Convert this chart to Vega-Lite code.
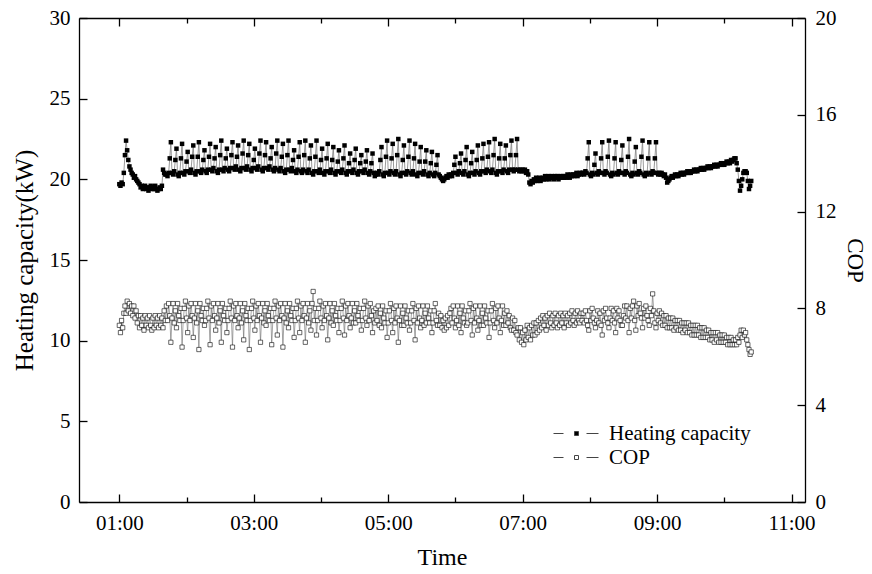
{
"$schema":"https://vega.github.io/schema/vega-lite/v6.json",
"width":726,"height":484,
"autosize":{"type":"none"},
"padding":{"left":79,"top":18,"right":67,"bottom":72},
"config":{"font":"Liberation Serif","view":{"stroke":null},
"axis":{"domainColor":"black","domainWidth":1.3,"tickColor":"black","tickWidth":1.3,"labelColor":"black","titleColor":"black","labelFont":"Liberation Serif","titleFont":"Liberation Serif","labelFontSize":21,"titleFontSize":24,"titleFontWeight":"normal","grid":false}},
"data":{"format":{"parse":{"t":"date:'%H:%M'"}},"values":[
{"t":"1:00","h":19.7,"c":7.3},{"t":"1:01","h":19.6,"c":7.0},{"t":"1:02","h":19.8,"c":7.5},{"t":"1:03","h":19.7,"c":7.2},{"t":"1:04","h":20.4,"c":7.8},{"t":"1:05","h":21.5,"c":8.1},{"t":"1:06","h":22.4,"c":7.8},{"t":"1:07","h":21.8,"c":8.3},{"t":"1:08","h":21.2,"c":7.9},{"t":"1:09","h":20.8,"c":8.2},
{"t":"1:10","h":20.6,"c":7.8},{"t":"1:11","h":20.4,"c":8.1},{"t":"1:12","h":20.3,"c":7.7},{"t":"1:13","h":20.1,"c":8.1},{"t":"1:14","h":20.2,"c":7.6},{"t":"1:15","h":20.0,"c":7.9},{"t":"1:16","h":19.9,"c":7.4},{"t":"1:17","h":19.8,"c":7.7},{"t":"1:18","h":19.7,"c":7.2},{"t":"1:19","h":19.5,"c":7.7},
{"t":"1:20","h":19.6,"c":7.3},{"t":"1:21","h":19.4,"c":7.6},{"t":"1:22","h":19.5,"c":7.1},{"t":"1:23","h":19.6,"c":7.7},{"t":"1:24","h":19.4,"c":7.3},{"t":"1:25","h":19.5,"c":7.6},{"t":"1:26","h":19.3,"c":7.2},{"t":"1:27","h":19.5,"c":7.7},{"t":"1:28","h":19.6,"c":7.3},{"t":"1:29","h":19.4,"c":7.1},
{"t":"1:30","h":19.5,"c":7.6},{"t":"1:31","h":19.4,"c":7.2},{"t":"1:32","h":19.6,"c":7.7},{"t":"1:33","h":19.4,"c":7.3},{"t":"1:34","h":19.3,"c":7.6},{"t":"1:35","h":19.4,"c":7.2},{"t":"1:36","h":19.5,"c":7.7},{"t":"1:37","h":19.4,"c":7.3},{"t":"1:38","h":19.6,"c":7.6},{"t":"1:39","h":20.6,"c":7.2},
{"t":"1:40","h":20.4,"c":7.9},{"t":"1:41","h":20.3,"c":7.5},
{"t":"1:42","h":20.3,"c":8.1},{"t":"1:43","h":20.2,"c":7.5},{"t":"1:44","h":20.4,"c":8.2},{"t":"1:45","h":21.3,"c":7.7},{"t":"1:46","h":22.3,"c":6.6},
{"t":"1:47","h":20.4,"c":7.6},{"t":"1:48","h":20.3,"c":8.2},{"t":"1:49","h":20.5,"c":7.4},{"t":"1:50","h":21.2,"c":7.9},{"t":"1:51","h":21.9,"c":7.2},
{"t":"1:52","h":20.3,"c":8.2},{"t":"1:53","h":20.2,"c":7.7},{"t":"1:54","h":20.4,"c":7.5},{"t":"1:55","h":21.3,"c":8.0},{"t":"1:56","h":22.2,"c":6.4},
{"t":"1:57","h":20.4,"c":7.5},{"t":"1:58","h":20.3,"c":8.0},{"t":"1:59","h":20.5,"c":8.3},{"t":"2:00","h":21.1,"c":7.6},{"t":"2:01","h":21.7,"c":7.0},
{"t":"2:02","h":20.5,"c":8.1},{"t":"2:03","h":20.4,"c":7.5},{"t":"2:04","h":20.6,"c":8.2},{"t":"2:05","h":21.4,"c":7.7},{"t":"2:06","h":22.1,"c":6.8},
{"t":"2:07","h":20.4,"c":7.6},{"t":"2:08","h":20.3,"c":8.2},{"t":"2:09","h":20.5,"c":7.4},{"t":"2:10","h":21.4,"c":7.9},{"t":"2:11","h":22.3,"c":6.3},
{"t":"2:12","h":20.5,"c":8.2},{"t":"2:13","h":20.4,"c":7.7},{"t":"2:14","h":20.6,"c":7.5},{"t":"2:15","h":21.2,"c":8.0},{"t":"2:16","h":21.8,"c":7.3},
{"t":"2:17","h":20.5,"c":7.5},{"t":"2:18","h":20.4,"c":8.0},{"t":"2:19","h":20.6,"c":8.3},{"t":"2:20","h":21.4,"c":7.6},{"t":"2:21","h":22.2,"c":6.5},
{"t":"2:22","h":20.6,"c":8.1},{"t":"2:23","h":20.5,"c":7.5},{"t":"2:24","h":20.7,"c":8.2},{"t":"2:25","h":21.3,"c":7.7},{"t":"2:26","h":22.0,"c":7.1},
{"t":"2:27","h":20.5,"c":7.6},{"t":"2:28","h":20.4,"c":8.2},{"t":"2:29","h":20.6,"c":7.4},{"t":"2:30","h":21.5,"c":7.9},{"t":"2:31","h":22.4,"c":6.6},
{"t":"2:32","h":20.6,"c":8.2},{"t":"2:33","h":20.5,"c":7.7},{"t":"2:34","h":20.7,"c":7.5},{"t":"2:35","h":21.3,"c":8.0},{"t":"2:36","h":21.9,"c":7.0},
{"t":"2:37","h":20.6,"c":7.5},{"t":"2:38","h":20.5,"c":8.0},{"t":"2:39","h":20.7,"c":8.3},{"t":"2:40","h":21.5,"c":7.6},{"t":"2:41","h":22.3,"c":6.4},
{"t":"2:42","h":20.7,"c":8.1},{"t":"2:43","h":20.6,"c":7.5},{"t":"2:44","h":20.8,"c":8.2},{"t":"2:45","h":21.4,"c":7.7},{"t":"2:46","h":22.1,"c":7.2},
{"t":"2:47","h":20.6,"c":7.6},{"t":"2:48","h":20.5,"c":8.2},{"t":"2:49","h":20.7,"c":7.4},{"t":"2:50","h":21.6,"c":7.9},{"t":"2:51","h":22.4,"c":6.7},
{"t":"2:52","h":20.7,"c":8.2},{"t":"2:53","h":20.6,"c":7.7},{"t":"2:54","h":20.8,"c":7.5},{"t":"2:55","h":21.5,"c":8.0},{"t":"2:56","h":22.2,"c":6.3},
{"t":"2:57","h":20.6,"c":7.5},{"t":"2:58","h":20.5,"c":8.0},{"t":"2:59","h":20.7,"c":8.3},{"t":"3:00","h":21.2,"c":7.6},{"t":"3:01","h":21.9,"c":7.1},
{"t":"3:02","h":20.7,"c":8.1},{"t":"3:03","h":20.6,"c":7.5},{"t":"3:04","h":20.8,"c":8.2},{"t":"3:05","h":21.6,"c":7.7},{"t":"3:06","h":22.4,"c":6.6},
{"t":"3:07","h":20.6,"c":7.6},{"t":"3:08","h":20.5,"c":8.2},{"t":"3:09","h":20.7,"c":7.4},{"t":"3:10","h":21.5,"c":7.9},{"t":"3:11","h":22.3,"c":7.3},
{"t":"3:12","h":20.7,"c":8.2},{"t":"3:13","h":20.6,"c":7.7},{"t":"3:14","h":20.8,"c":7.5},{"t":"3:15","h":21.3,"c":8.0},{"t":"3:16","h":22.0,"c":6.5},
{"t":"3:17","h":20.6,"c":7.5},{"t":"3:18","h":20.5,"c":8.0},{"t":"3:19","h":20.7,"c":8.3},{"t":"3:20","h":21.6,"c":7.6},{"t":"3:21","h":22.4,"c":6.9},
{"t":"3:22","h":20.6,"c":8.1},{"t":"3:23","h":20.5,"c":7.5},{"t":"3:24","h":20.7,"c":8.2},{"t":"3:25","h":21.4,"c":7.7},{"t":"3:26","h":22.2,"c":6.4},
{"t":"3:27","h":20.5,"c":7.6},{"t":"3:28","h":20.4,"c":8.2},{"t":"3:29","h":20.6,"c":7.4},{"t":"3:30","h":21.5,"c":7.9},{"t":"3:31","h":22.4,"c":7.2},
{"t":"3:32","h":20.6,"c":8.2},{"t":"3:33","h":20.5,"c":7.7},{"t":"3:34","h":20.7,"c":7.5},{"t":"3:35","h":21.2,"c":8.0},{"t":"3:36","h":21.8,"c":6.8},
{"t":"3:37","h":20.5,"c":7.5},{"t":"3:38","h":20.4,"c":8.0},{"t":"3:39","h":20.6,"c":8.3},{"t":"3:40","h":21.4,"c":7.6},{"t":"3:41","h":22.3,"c":7.0},
{"t":"3:42","h":20.5,"c":8.1},{"t":"3:43","h":20.4,"c":7.5},{"t":"3:44","h":20.6,"c":8.2},{"t":"3:45","h":21.5,"c":7.7},{"t":"3:46","h":22.4,"c":6.6},
{"t":"3:47","h":20.5,"c":7.6},{"t":"3:48","h":20.4,"c":8.2},{"t":"3:49","h":20.6,"c":7.4},{"t":"3:50","h":21.3,"c":7.9},{"t":"3:51","h":22.1,"c":7.1},
{"t":"3:52","h":20.4,"c":8.2},{"t":"3:53","h":20.3,"c":8.7},{"t":"3:54","h":20.5,"c":7.5},{"t":"3:55","h":21.4,"c":8.0},{"t":"3:56","h":22.4,"c":6.9},
{"t":"3:57","h":20.5,"c":7.5},{"t":"3:58","h":20.4,"c":8.0},{"t":"3:59","h":20.6,"c":8.3},{"t":"4:00","h":21.2,"c":7.6},{"t":"4:01","h":21.9,"c":7.2},
{"t":"4:02","h":20.4,"c":8.1},{"t":"4:03","h":20.3,"c":7.5},{"t":"4:04","h":20.5,"c":8.2},{"t":"4:05","h":21.3,"c":7.7},{"t":"4:06","h":22.2,"c":6.7},
{"t":"4:07","h":20.5,"c":7.6},{"t":"4:08","h":20.4,"c":8.2},{"t":"4:09","h":20.6,"c":7.4},{"t":"4:10","h":21.2,"c":7.9},{"t":"4:11","h":22.0,"c":7.3},
{"t":"4:12","h":20.4,"c":8.2},{"t":"4:13","h":20.3,"c":7.7},{"t":"4:14","h":20.5,"c":7.5},{"t":"4:15","h":21.1,"c":8.0},{"t":"4:16","h":21.8,"c":7.0},
{"t":"4:17","h":20.5,"c":7.5},{"t":"4:18","h":20.4,"c":8.0},{"t":"4:19","h":20.6,"c":8.3},{"t":"4:20","h":21.3,"c":7.6},{"t":"4:21","h":22.1,"c":6.9},
{"t":"4:22","h":20.4,"c":8.1},{"t":"4:23","h":20.3,"c":7.5},{"t":"4:24","h":20.5,"c":8.2},{"t":"4:25","h":21.0,"c":7.7},{"t":"4:26","h":21.6,"c":7.2},
{"t":"4:27","h":20.5,"c":7.6},{"t":"4:28","h":20.4,"c":8.2},{"t":"4:29","h":20.6,"c":7.4},{"t":"4:30","h":21.2,"c":7.9},{"t":"4:31","h":21.9,"c":7.4},
{"t":"4:32","h":20.4,"c":8.2},{"t":"4:33","h":20.3,"c":7.7},{"t":"4:34","h":20.5,"c":7.5},{"t":"4:35","h":21.0,"c":8.0},{"t":"4:36","h":21.5,"c":7.1},
{"t":"4:37","h":20.5,"c":7.5},{"t":"4:38","h":20.4,"c":8.0},{"t":"4:39","h":20.6,"c":8.3},{"t":"4:40","h":21.1,"c":7.6},{"t":"4:41","h":21.8,"c":7.3},
{"t":"4:42","h":20.4,"c":8.1},{"t":"4:43","h":20.3,"c":7.5},{"t":"4:44","h":20.5,"c":8.2},{"t":"4:45","h":21.0,"c":7.7},{"t":"4:46","h":21.6,"c":7.0},
{"t":"4:47","h":20.4,"c":7.9},{"t":"4:48","h":20.2,"c":7.4},{"t":"4:49","h":20.3,"c":8.0},
{"t":"4:50","h":20.4,"c":7.5},{"t":"4:51","h":20.3,"c":8.1},{"t":"4:52","h":20.5,"c":7.3},{"t":"4:53","h":21.2,"c":7.8},{"t":"4:54","h":22.0,"c":7.2},
{"t":"4:55","h":20.3,"c":8.1},{"t":"4:56","h":20.2,"c":7.6},{"t":"4:57","h":20.4,"c":7.4},{"t":"4:58","h":21.4,"c":7.9},{"t":"4:59","h":22.4,"c":6.8},
{"t":"5:00","h":20.4,"c":7.4},{"t":"5:01","h":20.3,"c":7.9},{"t":"5:02","h":20.5,"c":8.2},{"t":"5:03","h":21.3,"c":7.5},{"t":"5:04","h":22.2,"c":7.0},
{"t":"5:05","h":20.4,"c":8.0},{"t":"5:06","h":20.3,"c":7.4},{"t":"5:07","h":20.5,"c":8.1},{"t":"5:08","h":21.5,"c":7.6},{"t":"5:09","h":22.5,"c":6.6},
{"t":"5:10","h":20.3,"c":7.5},{"t":"5:11","h":20.2,"c":8.1},{"t":"5:12","h":20.4,"c":7.3},{"t":"5:13","h":21.2,"c":7.8},{"t":"5:14","h":22.1,"c":7.3},
{"t":"5:15","h":20.4,"c":8.1},{"t":"5:16","h":20.3,"c":7.6},{"t":"5:17","h":20.5,"c":7.4},{"t":"5:18","h":21.4,"c":7.9},{"t":"5:19","h":22.4,"c":7.1},
{"t":"5:20","h":20.4,"c":7.4},{"t":"5:21","h":20.3,"c":7.9},{"t":"5:22","h":20.5,"c":8.2},{"t":"5:23","h":21.3,"c":7.5},{"t":"5:24","h":22.2,"c":6.7},
{"t":"5:25","h":20.3,"c":8.0},{"t":"5:26","h":20.2,"c":7.4},{"t":"5:27","h":20.4,"c":8.1},{"t":"5:28","h":21.1,"c":7.6},{"t":"5:29","h":22.0,"c":7.2},
{"t":"5:30","h":20.4,"c":7.5},{"t":"5:31","h":20.3,"c":8.1},{"t":"5:32","h":20.5,"c":7.3},{"t":"5:33","h":21.1,"c":7.8},{"t":"5:34","h":21.8,"c":7.4},
{"t":"5:35","h":20.3,"c":8.1},{"t":"5:36","h":20.2,"c":7.6},{"t":"5:37","h":20.4,"c":7.4},{"t":"5:38","h":21.0,"c":7.9},{"t":"5:39","h":21.7,"c":7.0},
{"t":"5:40","h":20.3,"c":7.4},{"t":"5:41","h":20.2,"c":7.9},{"t":"5:42","h":20.4,"c":8.2},{"t":"5:43","h":20.9,"c":7.5},{"t":"5:44","h":21.5,"c":7.3},
{"t":"5:45","h":20.3,"c":7.8},{"t":"5:46","h":20.2,"c":7.3},{"t":"5:47","h":20.1,"c":7.7},{"t":"5:48","h":20.0,"c":7.2},{"t":"5:49","h":19.9,"c":7.5},{"t":"5:50","h":20.0,"c":7.1},{"t":"5:51","h":20.1,"c":7.6},{"t":"5:52","h":20.2,"c":7.2},{"t":"5:53","h":20.1,"c":7.7},{"t":"5:54","h":20.3,"c":7.3},{"t":"5:55","h":20.2,"c":7.8},
{"t":"5:56","h":20.3,"c":8.0},{"t":"5:57","h":20.2,"c":7.4},{"t":"5:58","h":20.4,"c":8.1},{"t":"5:59","h":20.9,"c":7.6},{"t":"6:00","h":21.4,"c":7.2},
{"t":"6:01","h":20.4,"c":7.5},{"t":"6:02","h":20.3,"c":8.1},{"t":"6:03","h":20.5,"c":7.3},{"t":"6:04","h":21.0,"c":7.8},{"t":"6:05","h":21.6,"c":7.0},
{"t":"6:06","h":20.4,"c":8.1},{"t":"6:07","h":20.3,"c":7.6},{"t":"6:08","h":20.5,"c":7.4},{"t":"6:09","h":21.2,"c":7.9},{"t":"6:10","h":22.0,"c":7.3},
{"t":"6:11","h":20.3,"c":7.4},{"t":"6:12","h":20.2,"c":7.9},{"t":"6:13","h":20.4,"c":8.2},{"t":"6:14","h":21.0,"c":7.5},{"t":"6:15","h":21.7,"c":6.9},
{"t":"6:16","h":20.4,"c":8.0},{"t":"6:17","h":20.3,"c":7.4},{"t":"6:18","h":20.5,"c":8.1},{"t":"6:19","h":21.2,"c":7.6},{"t":"6:20","h":22.1,"c":7.1},
{"t":"6:21","h":20.4,"c":7.5},{"t":"6:22","h":20.3,"c":8.1},{"t":"6:23","h":20.5,"c":7.3},{"t":"6:24","h":21.3,"c":7.8},{"t":"6:25","h":22.2,"c":7.3},
{"t":"6:26","h":20.5,"c":8.1},{"t":"6:27","h":20.4,"c":7.6},{"t":"6:28","h":20.6,"c":7.4},{"t":"6:29","h":21.4,"c":7.9},{"t":"6:30","h":22.3,"c":6.8},
{"t":"6:31","h":20.5,"c":7.4},{"t":"6:32","h":20.4,"c":7.9},{"t":"6:33","h":20.6,"c":8.2},{"t":"6:34","h":21.5,"c":7.5},{"t":"6:35","h":22.5,"c":7.2},
{"t":"6:36","h":20.4,"c":8.0},{"t":"6:37","h":20.3,"c":7.4},{"t":"6:38","h":20.5,"c":8.1},{"t":"6:39","h":21.3,"c":7.6},{"t":"6:40","h":22.2,"c":7.0},
{"t":"6:41","h":20.5,"c":7.5},{"t":"6:42","h":20.4,"c":8.1},{"t":"6:43","h":20.6,"c":7.3},{"t":"6:44","h":21.3,"c":7.8},{"t":"6:45","h":22.1,"c":7.3},
{"t":"6:46","h":20.5,"c":7.9},{"t":"6:47","h":20.4,"c":7.4},{"t":"6:48","h":20.6,"c":7.7},{"t":"6:49","h":21.5,"c":7.2},{"t":"6:50","h":22.4,"c":7.1},
{"t":"6:51","h":20.6,"c":7.6},{"t":"6:52","h":20.5,"c":7.1},{"t":"6:53","h":20.6,"c":7.5},{"t":"6:54","h":21.5,"c":7.0},{"t":"6:55","h":22.5,"c":6.9},
{"t":"6:56","h":20.6,"c":7.2},{"t":"6:57","h":20.5,"c":6.7},{"t":"6:58","h":20.6,"c":7.2},{"t":"6:59","h":20.5,"c":6.6},{"t":"7:00","h":20.6,"c":7.0},{"t":"7:01","h":20.5,"c":6.5},{"t":"7:02","h":20.6,"c":7.1},{"t":"7:03","h":20.4,"c":6.7},{"t":"7:04","h":20.5,"c":7.3},{"t":"7:05","h":20.3,"c":6.8},
{"t":"7:06","h":19.8,"c":7.2},{"t":"7:07","h":19.7,"c":6.7},{"t":"7:08","h":19.9,"c":7.3},{"t":"7:09","h":19.8,"c":6.9},{"t":"7:10","h":20.0,"c":7.4},{"t":"7:11","h":19.9,"c":6.9},{"t":"7:12","h":20.1,"c":7.4},{"t":"7:13","h":19.9,"c":7.0},{"t":"7:14","h":20.0,"c":7.5},{"t":"7:15","h":20.1,"c":7.1},
{"t":"7:16","h":19.9,"c":7.6},{"t":"7:17","h":20.0,"c":7.2},{"t":"7:18","h":20.1,"c":7.7},{"t":"7:19","h":20.0,"c":7.3},{"t":"7:20","h":20.2,"c":7.6},{"t":"7:21","h":20.0,"c":7.1},{"t":"7:22","h":20.1,"c":7.7},{"t":"7:23","h":20.2,"c":7.3},{"t":"7:24","h":20.0,"c":7.8},{"t":"7:25","h":20.1,"c":7.4},
{"t":"7:26","h":20.2,"c":7.2},{"t":"7:27","h":20.1,"c":7.7},{"t":"7:28","h":20.0,"c":7.3},{"t":"7:29","h":20.2,"c":7.8},{"t":"7:30","h":20.1,"c":7.4},{"t":"7:31","h":20.2,"c":7.2},{"t":"7:32","h":20.0,"c":7.7},{"t":"7:33","h":20.1,"c":7.3},{"t":"7:34","h":20.2,"c":7.8},{"t":"7:35","h":20.1,"c":7.4},
{"t":"7:36","h":20.2,"c":7.7},{"t":"7:37","h":20.1,"c":7.2},{"t":"7:38","h":20.2,"c":7.8},{"t":"7:39","h":20.1,"c":7.4},{"t":"7:40","h":20.3,"c":7.7},{"t":"7:41","h":20.2,"c":7.3},{"t":"7:42","h":20.1,"c":7.8},{"t":"7:43","h":20.3,"c":7.4},{"t":"7:44","h":20.2,"c":7.9},{"t":"7:45","h":20.3,"c":7.5},
{"t":"7:46","h":20.2,"c":7.3},{"t":"7:47","h":20.3,"c":7.8},{"t":"7:48","h":20.4,"c":7.4},{"t":"7:49","h":20.2,"c":7.9},{"t":"7:50","h":20.3,"c":7.5},{"t":"7:51","h":20.4,"c":7.4},{"t":"7:52","h":20.3,"c":7.8},{"t":"7:53","h":20.4,"c":7.5},
{"t":"7:54","h":20.4,"c":7.8},{"t":"7:55","h":20.3,"c":7.4},{"t":"7:56","h":20.5,"c":7.9},{"t":"7:57","h":20.4,"c":7.5},{"t":"7:58","h":21.3,"c":7.3},{"t":"7:59","h":22.3,"c":7.1},
{"t":"8:00","h":20.3,"c":7.9},{"t":"8:01","h":20.2,"c":7.5},{"t":"8:02","h":20.4,"c":8.0},{"t":"8:03","h":20.3,"c":7.6},{"t":"8:04","h":20.9,"c":7.4},{"t":"8:05","h":21.6,"c":7.2},
{"t":"8:06","h":20.4,"c":7.5},{"t":"8:07","h":20.3,"c":7.9},{"t":"8:08","h":20.5,"c":7.4},{"t":"8:09","h":20.4,"c":7.8},{"t":"8:10","h":21.3,"c":7.3},{"t":"8:11","h":22.3,"c":6.9},
{"t":"8:12","h":20.4,"c":7.9},{"t":"8:13","h":20.3,"c":7.5},{"t":"8:14","h":20.5,"c":8.0},{"t":"8:15","h":20.4,"c":7.6},{"t":"8:16","h":21.4,"c":7.4},{"t":"8:17","h":22.4,"c":7.2},
{"t":"8:18","h":20.3,"c":7.6},{"t":"8:19","h":20.2,"c":8.0},{"t":"8:20","h":20.4,"c":7.5},{"t":"8:21","h":20.3,"c":7.9},{"t":"8:22","h":21.3,"c":7.4},{"t":"8:23","h":22.3,"c":7.0},
{"t":"8:24","h":20.4,"c":8.0},{"t":"8:25","h":20.3,"c":7.6},{"t":"8:26","h":20.5,"c":7.9},{"t":"8:27","h":20.4,"c":7.5},{"t":"8:28","h":21.2,"c":7.3},{"t":"8:29","h":22.1,"c":7.3},
{"t":"8:30","h":20.4,"c":7.7},{"t":"8:31","h":20.3,"c":8.1},{"t":"8:32","h":20.5,"c":7.6},{"t":"8:33","h":20.4,"c":8.1},{"t":"8:34","h":21.4,"c":7.5},{"t":"8:35","h":22.5,"c":7.0},
{"t":"8:36","h":20.3,"c":8.0},{"t":"8:37","h":20.2,"c":7.6},{"t":"8:38","h":20.4,"c":8.1},{"t":"8:39","h":20.3,"c":8.3},{"t":"8:40","h":21.1,"c":7.5},{"t":"8:41","h":22.0,"c":7.1},
{"t":"8:42","h":20.4,"c":8.1},{"t":"8:43","h":20.3,"c":7.7},{"t":"8:44","h":20.5,"c":8.2},{"t":"8:45","h":20.4,"c":7.8},{"t":"8:46","h":21.4,"c":7.6},{"t":"8:47","h":22.4,"c":7.2},
{"t":"8:48","h":20.3,"c":8.0},{"t":"8:49","h":20.2,"c":7.6},{"t":"8:50","h":20.4,"c":8.1},{"t":"8:51","h":20.3,"c":7.7},{"t":"8:52","h":21.3,"c":7.5},{"t":"8:53","h":22.3,"c":7.3},
{"t":"8:54","h":20.4,"c":8.0},{"t":"8:55","h":20.3,"c":7.7},{"t":"8:56","h":20.5,"c":8.6},{"t":"8:57","h":20.4,"c":7.9},{"t":"8:58","h":21.3,"c":7.4},{"t":"8:59","h":22.3,"c":7.2},
{"t":"9:00","h":20.4,"c":7.8},{"t":"9:01","h":20.3,"c":7.5},{"t":"9:02","h":20.4,"c":7.9},{"t":"9:03","h":20.3,"c":7.4},{"t":"9:04","h":20.4,"c":7.8},{"t":"9:05","h":20.3,"c":7.3},{"t":"9:06","h":20.2,"c":7.7},{"t":"9:07","h":20.3,"c":7.3},{"t":"9:08","h":20.1,"c":7.7},{"t":"9:09","h":19.8,"c":7.2},
{"t":"9:10","h":19.9,"c":7.6},{"t":"9:11","h":20.0,"c":7.2},{"t":"9:12","h":20.1,"c":7.6},{"t":"9:13","h":20.2,"c":7.2},{"t":"9:14","h":20.1,"c":7.6},{"t":"9:15","h":20.2,"c":7.1},{"t":"9:16","h":20.3,"c":7.5},{"t":"9:17","h":20.2,"c":7.2},{"t":"9:18","h":20.3,"c":7.5},{"t":"9:19","h":20.2,"c":7.1},
{"t":"9:20","h":20.3,"c":7.5},{"t":"9:21","h":20.4,"c":7.1},{"t":"9:22","h":20.3,"c":7.4},{"t":"9:23","h":20.4,"c":7.0},{"t":"9:24","h":20.3,"c":7.4},{"t":"9:25","h":20.4,"c":7.1},{"t":"9:26","h":20.4,"c":7.4},{"t":"9:27","h":20.5,"c":7.0},{"t":"9:28","h":20.4,"c":7.4},{"t":"9:29","h":20.5,"c":7.0},
{"t":"9:30","h":20.4,"c":7.3},{"t":"9:31","h":20.5,"c":6.9},{"t":"9:32","h":20.5,"c":7.3},{"t":"9:33","h":20.6,"c":6.9},{"t":"9:34","h":20.5,"c":7.3},{"t":"9:35","h":20.6,"c":6.9},{"t":"9:36","h":20.5,"c":7.3},{"t":"9:37","h":20.6,"c":6.9},{"t":"9:38","h":20.6,"c":7.2},{"t":"9:39","h":20.7,"c":6.8},
{"t":"9:40","h":20.6,"c":7.2},{"t":"9:41","h":20.7,"c":6.8},{"t":"9:42","h":20.6,"c":7.2},{"t":"9:43","h":20.7,"c":6.8},{"t":"9:44","h":20.7,"c":7.1},{"t":"9:45","h":20.8,"c":6.8},{"t":"9:46","h":20.7,"c":7.1},{"t":"9:47","h":20.8,"c":6.7},{"t":"9:48","h":20.7,"c":7.0},{"t":"9:49","h":20.8,"c":6.7},
{"t":"9:50","h":20.8,"c":7.0},{"t":"9:51","h":20.9,"c":6.6},{"t":"9:52","h":20.8,"c":7.0},{"t":"9:53","h":20.9,"c":6.7},{"t":"9:54","h":20.8,"c":7.0},{"t":"9:55","h":20.9,"c":6.6},{"t":"9:56","h":20.9,"c":6.9},{"t":"9:57","h":21.0,"c":6.6},{"t":"9:58","h":20.9,"c":6.9},{"t":"9:59","h":21.0,"c":6.6},
{"t":"10:00","h":20.9,"c":6.9},{"t":"10:01","h":21.0,"c":6.6},{"t":"10:02","h":21.1,"c":6.8},{"t":"10:03","h":21.0,"c":6.5},{"t":"10:04","h":21.1,"c":6.8},{"t":"10:05","h":21.0,"c":6.5},{"t":"10:06","h":21.2,"c":6.8},{"t":"10:07","h":21.1,"c":6.5},{"t":"10:08","h":21.2,"c":6.7},{"t":"10:09","h":21.3,"c":6.5},
{"t":"10:10","h":21.3,"c":6.7},{"t":"10:11","h":21.0,"c":6.5},{"t":"10:12","h":20.6,"c":6.8},{"t":"10:13","h":19.9,"c":6.6},{"t":"10:14","h":19.3,"c":6.9},{"t":"10:15","h":19.6,"c":7.1},{"t":"10:16","h":20.0,"c":6.8},{"t":"10:17","h":20.4,"c":7.1},{"t":"10:18","h":20.5,"c":6.9},{"t":"10:19","h":20.5,"c":7.0},
{"t":"10:20","h":20.4,"c":6.7},{"t":"10:21","h":19.9,"c":6.5},{"t":"10:22","h":19.4,"c":6.3},{"t":"10:23","h":19.6,"c":6.1},{"t":"10:24","h":19.9,"c":6.2}
]},
"layer":[
{"encoding":{
 "x":{"field":"t","type":"temporal","title":"Time",
  "scale":{"domain":[{"year":1900,"month":1,"date":1,"hours":0,"minutes":24},{"year":1900,"month":1,"date":1,"hours":11,"minutes":12}]},
  "axis":{"orient":"bottom","format":"%H:%M","values":[{"year":1900,"month":1,"date":1,"hours":1},{"year":1900,"month":1,"date":1,"hours":2},{"year":1900,"month":1,"date":1,"hours":3},{"year":1900,"month":1,"date":1,"hours":4},{"year":1900,"month":1,"date":1,"hours":5},{"year":1900,"month":1,"date":1,"hours":6},{"year":1900,"month":1,"date":1,"hours":7},{"year":1900,"month":1,"date":1,"hours":8},{"year":1900,"month":1,"date":1,"hours":9},{"year":1900,"month":1,"date":1,"hours":10},{"year":1900,"month":1,"date":1,"hours":11}],
   "labelExpr":"hours(datum.value) % 2 == 1 ? datum.label : ''",
   "tickSize":{"condition":{"test":"hours(datum.value) % 2 == 0","value":-5},"value":-8},
   "labelPadding":18,"titlePadding":12,"labelFlush":false}},
 "y":{"field":"h","type":"quantitative","scale":{"domain":[0,30]},
  "title":"Heating capacity(kW)",
  "axis":{"orient":"left","values":[0,5,10,15,20,25,30],"tickSize":-8,"labelPadding":17,"titlePadding":12,"titleFontSize":25}}},
 "layer":[
  {"mark":{"type":"line","stroke":"#808080","strokeWidth":0.8},"encoding":{}},
  {"mark":{"type":"point","shape":"square","filled":true,"size":20,"opacity":1},
   "encoding":{"fill":{"datum":"Heating capacity","type":"nominal",
     "scale":{"domain":["Heating capacity","COP"],"range":["black","white"]},
     "legend":{"orient":"none","legendX":468,"legendY":405,"title":null,
       "symbolType":"M-1,0H1.5M7.25,0H10.25M4.25,-0.5H5.25V0.5H4.25Z","symbolSize":64,
       "symbolStrokeColor":"#444","symbolStrokeWidth":1,"labelFontSize":21,"labelFont":"Liberation Serif","labelColor":"black","labelOffset":41,"rowPadding":2}}}}
 ]},
{"encoding":{
 "x":{"field":"t","type":"temporal",
  "axis":{"orient":"top","title":null,"labels":false,"values":[{"year":1900,"month":1,"date":1,"hours":1},{"year":1900,"month":1,"date":1,"hours":2},{"year":1900,"month":1,"date":1,"hours":3},{"year":1900,"month":1,"date":1,"hours":4},{"year":1900,"month":1,"date":1,"hours":5},{"year":1900,"month":1,"date":1,"hours":6},{"year":1900,"month":1,"date":1,"hours":7},{"year":1900,"month":1,"date":1,"hours":8},{"year":1900,"month":1,"date":1,"hours":9},{"year":1900,"month":1,"date":1,"hours":10},{"year":1900,"month":1,"date":1,"hours":11}],
   "tickSize":{"condition":{"test":"hours(datum.value) % 2 == 0","value":-5},"value":-8}}},
 "y":{"field":"c","type":"quantitative","title":"COP","scale":{"domain":[0,20]},
  "axis":{"orient":"right","values":[0,4,8,12,16,20],"tickSize":-8,"labelPadding":18,"titlePadding":6,"titleFontSize":23}}},
 "layer":[
  {"mark":{"type":"line","stroke":"#6a6a6a","strokeWidth":0.6},"encoding":{}},
  {"mark":{"type":"point","shape":"square","filled":true,"size":18,"opacity":1,"stroke":"black","strokeWidth":0.6},
   "encoding":{"fill":{"datum":"COP","type":"nominal"}}}
 ]}
],
"resolve":{"scale":{"y":"independent"},"axis":{"x":"independent"}}
}
